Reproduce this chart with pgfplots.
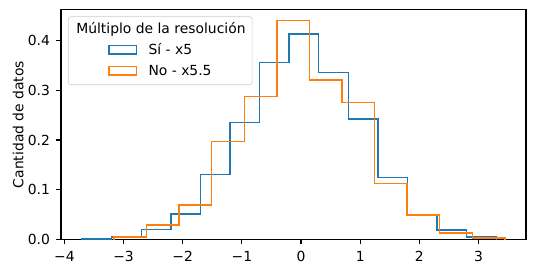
\documentclass[border=0pt]{standalone}
\usepackage{pgfplots}
\pgfplotsset{compat=1.18}
\usepackage{fontspec}
\setmainfont{DejaVu Sans}
\definecolor{mplblue}{HTML}{1F77B4}
\definecolor{mplorange}{HTML}{FF7F0E}
\begin{document}
\fontsize{10bp}{12bp}\selectfont
\begin{tikzpicture}
\useasboundingbox (-43.92bp,-24.84bp) rectangle (342bp,172.44bp);
\begin{axis}[
  at={(0,0)}, anchor=south west,
  scale only axis, width=334.8bp, height=165.6bp,
  xmin=-4.057, xmax=3.803, ymin=0, ymax=0.4625,
  xtick={-4,-3,-2,-1,0,1,2,3},
  xticklabels={−4,−3,−2,−1,0,1,2,3},
  ytick={0,0.1,0.2,0.3,0.4},
  yticklabels={0.0,0.1,0.2,0.3,0.4},
  tick align=outside, tick pos=left,
  major tick length=3.5bp,
  tick style={black, line width=0.8bp},
  axis line style={line width=0.8bp},
  ticklabel style={font=\fontsize{10bp}{12bp}\selectfont},
  xticklabel style={yshift=-1.5bp},
  yticklabel style={xshift=-1bp},
  ylabel={Cantidad de datos},
  ylabel style={at={(axis description cs:-0.092,0.5)}, anchor=center, font=\fontsize{10bp}{12bp}\selectfont},
  legend cell align=left,
  legend style={at={(rel axis cs:0.015,0.97)}, anchor=north west,
    draw=black!20, rounded corners=2bp, fill=white, fill opacity=0.8, text opacity=1,
    inner xsep=4.8bp, inner ysep=4.6bp, row sep=5.5bp,
    nodes={inner xsep=0pt, inner ysep=0pt, text height=7.6bp, text depth=2bp},
    font=\fontsize{10bp}{12bp}\selectfont},
  legend image code/.code={\path (-24bp,0bp) (28bp,0bp); \draw[#1, sharp corners] (0bp,-2.3bp) rectangle (20bp,3.8bp);},
]
\addlegendimage{empty legend}
\addlegendentry{\hspace*{-52bp}Múltiplo de la resolución}

\addplot[mplblue, line width=1bp, const plot mark left] coordinates {
(-3.70,0) (-3.70,0.001) (-3.20,0.005) (-2.70,0.020) (-2.20,0.051) (-1.70,0.131)
(-1.20,0.235) (-0.70,0.356) (-0.20,0.413) (0.30,0.336) (0.80,0.242) (1.30,0.125)
(1.80,0.050) (2.30,0.019) (2.80,0.005) (3.30,0)
};
\addlegendentry{Sí - x5}

\addplot[mplorange, line width=1bp, const plot mark left] coordinates {
(-3.163,0) (-3.163,0.005) (-2.612,0.029) (-2.061,0.069) (-1.511,0.197) (-0.960,0.287)
(-0.409,0.440) (0.142,0.321) (0.693,0.275) (1.243,0.113) (1.794,0.049) (2.345,0.013)
(2.896,0.003) (3.446,0)
};
\addlegendentry{No - x5.5}
\end{axis}
\end{tikzpicture}
\end{document}
